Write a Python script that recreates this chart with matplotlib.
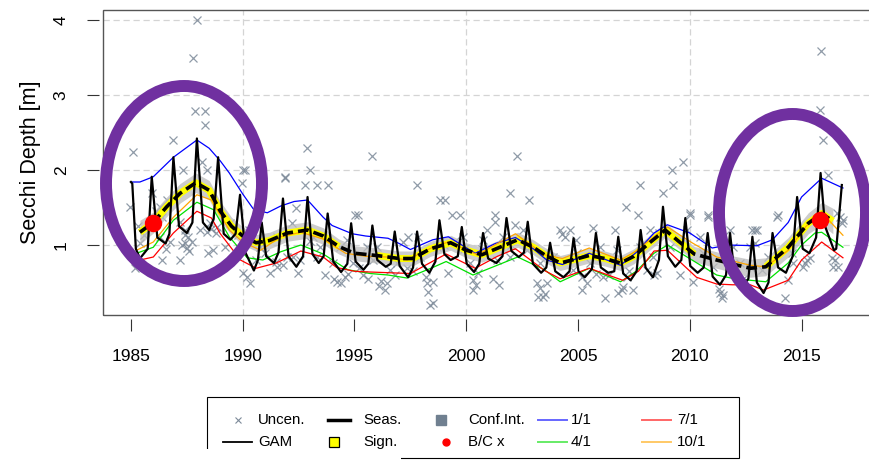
import matplotlib
matplotlib.use('Agg')
import matplotlib.pyplot as plt
from matplotlib.patches import Ellipse, Rectangle
from matplotlib.lines import Line2D
import numpy as np

plt.rcParams['font.family'] = ['Liberation Sans', 'DejaVu Sans']

# ---- data -------------------------------------------------------------
# seasonally averaged trend (Seas.) and half width of its confidence band
trend_year = [1985.4, 1986.0, 1986.6, 1987.2, 1987.9, 1988.5, 1989.0, 1989.5, 1990.0, 1990.6,
              1991.2, 1992.0, 1992.9, 1993.6, 1994.3, 1995.0, 1996.0, 1997.0, 1997.6, 1998.4,
              1999.3, 2000.0, 2000.7, 2001.5, 2002.3, 2003.0, 2003.5, 2004.2, 2005.0, 2005.5,
              2006.2, 2006.9, 2007.5, 2008.2, 2008.9, 2009.5, 2010.2, 2011.2, 2012.0, 2012.7,
              2013.4, 2014.4, 2015.3, 2015.9, 2016.4]
trend_depth = [1.17, 1.30, 1.51, 1.69, 1.83, 1.73, 1.45, 1.25, 1.12, 1.03,
               1.06, 1.16, 1.20, 1.12, 0.98, 0.89, 0.86, 0.82, 0.82, 0.95,
               1.03, 0.93, 0.87, 0.97, 1.07, 0.97, 0.87, 0.76, 0.82, 0.86,
               0.82, 0.76, 0.85, 1.03, 1.20, 1.05, 0.88, 0.80, 0.74, 0.69,
               0.71, 0.97, 1.29, 1.42, 1.32]
ci_half = [0.16, 0.14, 0.13, 0.13, 0.13, 0.13, 0.13, 0.12, 0.12, 0.11,
           0.11, 0.11, 0.11, 0.11, 0.10, 0.10, 0.10, 0.10, 0.10, 0.10,
           0.10, 0.10, 0.10, 0.10, 0.10, 0.10, 0.10, 0.10, 0.10, 0.10,
           0.10, 0.10, 0.10, 0.10, 0.10, 0.10, 0.10, 0.11, 0.11, 0.12,
           0.12, 0.13, 0.14, 0.15, 0.17]
# periods where the trend is significant
sign_periods = [(1985.4, 1994.3), (1996.0, 2010.2), (2013.4, 2016.4)]

# GAM fit (vertices)
gam_year = [1985.00, 1985.06, 1985.22, 1985.40, 1985.75, 1985.93,
            1986.18, 1986.55, 1986.72, 1986.90,
            1987.15, 1987.50, 1987.75, 1987.95,
            1988.22, 1988.50, 1988.70, 1988.90,
            1989.15, 1989.45, 1989.68, 1989.88,
            1990.12, 1990.50, 1990.68, 1990.85,
            1991.05, 1991.40, 1991.60, 1991.80,
            1992.05, 1992.40, 1992.70, 1992.90,
            1993.12, 1993.40, 1993.62, 1993.80,
            1994.05, 1994.40, 1994.68, 1994.85,
            1995.05, 1995.40, 1995.62, 1995.80,
            1996.02, 1996.40, 1996.62, 1996.80,
            1997.02, 1997.40, 1997.62, 1997.80,
            1998.02, 1998.35, 1998.62, 1998.80,
            1999.02, 1999.30, 1999.62, 1999.80,
            2000.02, 2000.35, 2000.58, 2000.75,
            2000.98, 2001.35, 2001.62, 2001.80,
            2002.02, 2002.35, 2002.58, 2002.75,
            2002.98, 2003.35, 2003.58, 2003.75,
            2003.98, 2004.35, 2004.62, 2004.80,
            2005.02, 2005.30, 2005.62, 2005.80,
            2006.02, 2006.35, 2006.62, 2006.80,
            2007.02, 2007.35, 2007.62, 2007.80,
            2008.02, 2008.35, 2008.62, 2008.80,
            2009.02, 2009.35, 2009.62, 2009.80,
            2010.02, 2010.35, 2010.62, 2010.80,
            2011.02, 2011.35, 2011.62, 2011.80,
            2012.02, 2012.35, 2012.62, 2012.80,
            2013.00, 2013.30, 2013.52, 2013.70,
            2013.95, 2014.30, 2014.60, 2014.80,
            2015.05, 2015.35, 2015.65, 2015.85,
            2016.05, 2016.45, 2016.55, 2016.80]
gam_depth = [1.84, 1.82, 0.95, 0.82, 0.95, 1.91,
             1.10, 1.02, 1.15, 2.17,
             1.25, 1.16, 1.30, 2.42,
             1.30, 1.20, 1.35, 2.17,
             1.15, 1.07, 1.15, 1.67,
             0.90, 0.66, 0.80, 1.30,
             0.85, 0.76, 0.90, 1.62,
             0.85, 0.71, 0.85, 1.64,
             0.88, 0.76, 0.85, 1.42,
             0.78, 0.64, 0.75, 1.29,
             0.78, 0.67, 0.75, 1.26,
             0.80, 0.71, 0.75, 1.18,
             0.72, 0.57, 0.70, 1.18,
             0.75, 0.63, 0.78, 1.33,
             0.88, 0.80, 0.85, 1.24,
             0.75, 0.64, 0.75, 1.16,
             0.82, 0.76, 0.85, 1.36,
             0.92, 0.84, 0.90, 1.31,
             0.75, 0.63, 0.70, 1.03,
             0.65, 0.57, 0.65, 1.09,
             0.65, 0.57, 0.68, 1.16,
             0.70, 0.63, 0.65, 1.11,
             0.62, 0.53, 0.65, 1.20,
             0.70, 0.57, 0.80, 1.51,
             0.85, 0.71, 0.80, 1.36,
             0.72, 0.63, 0.70, 1.16,
             0.58, 0.47, 0.60, 1.16,
             0.55, 0.44, 0.55, 1.11,
             0.50, 0.36, 0.50, 1.16,
             0.70, 0.63, 0.85, 1.64,
             0.95, 0.89, 1.10, 1.96,
             1.25, 0.93, 0.95, 1.80]

# GAM predictions on fixed days of the year
jan_year = [1985.05, 1985.4, 1986.0, 1986.9, 1987.95, 1988.5, 1989.0, 1989.4, 1990.0, 1990.5,
            1991.1, 1991.7, 1992.3, 1992.9, 1993.6, 1994.0, 1994.9, 1995.5, 1996.5, 1997.0,
            1997.5, 1998.5, 1999.2, 2000.4, 2001.3, 2002.2, 2003.0, 2003.6, 2004.3, 2005.5,
            2006.9, 2007.6, 2008.4, 2009.0, 2010.0, 2011.0, 2011.7, 2013.0, 2013.7, 2014.4,
            2015.0, 2015.9, 2016.85]
jan_depth = [1.84, 1.84, 1.91, 2.17, 2.40, 2.29, 2.12, 1.96, 1.68, 1.47,
             1.43, 1.52, 1.58, 1.60, 1.37, 1.26, 1.15, 1.12, 1.09, 1.02,
             0.94, 1.07, 1.11, 0.89, 1.02, 1.10, 0.95, 0.80, 0.74, 0.89,
             0.73, 0.90, 1.16, 1.27, 1.16, 0.96, 1.00, 0.99, 1.07, 1.30,
             1.64, 1.89, 1.76]

apr_year = [1985.25, 1986.0, 1986.9, 1987.95, 1988.7, 1989.4, 1990.2, 1990.9, 1991.7, 1992.6,
            1993.6, 1994.7, 1995.7, 1996.5, 1997.35, 1998.5, 1999.1, 2000.3, 2001.3, 2002.3,
            2003.5, 2004.2, 2005.5, 2006.9, 2007.6, 2008.4, 2009.0, 2010.1, 2011.2, 2012.0,
            2012.7, 2013.4, 2014.4, 2015.0, 2015.6, 2015.9, 2016.85]
apr_depth = [0.89, 0.97, 1.33, 1.57, 1.47, 1.11, 0.83, 0.80, 0.91, 1.00,
             0.88, 0.67, 0.62, 0.60, 0.56, 0.70, 0.78, 0.60, 0.72, 0.84,
             0.67, 0.51, 0.69, 0.51, 0.65, 0.89, 1.00, 0.80, 0.60, 0.55,
             0.53, 0.51, 0.76, 1.00, 1.16, 1.17, 0.97]

jul_year = [1985.4, 1986.0, 1986.9, 1987.95, 1988.6, 1989.0, 1989.9, 1990.6, 1991.5, 1992.6,
            1993.6, 1994.2, 1995.0, 1995.7, 1997.5, 1998.6, 1999.1, 2000.4, 2001.4, 2002.2,
            2003.5, 2004.2, 2005.5, 2007.0, 2007.7, 2008.4, 2009.0, 2010.3, 2011.2, 2011.9,
            2012.7, 2013.3, 2014.4, 2015.0, 2015.9, 2016.85]
jul_depth = [0.80, 0.84, 1.16, 1.45, 1.36, 1.15, 0.80, 0.69, 0.76, 0.92,
             0.84, 0.70, 0.65, 0.64, 0.62, 0.80, 0.88, 0.69, 0.85, 0.95,
             0.66, 0.55, 0.69, 0.53, 0.65, 0.92, 0.93, 0.57, 0.48, 0.47,
             0.47, 0.40, 0.53, 0.80, 1.04, 0.83]

oct_year = [1985.25, 1986.0, 1986.9, 1987.95, 1988.6, 1989.4, 1990.0, 1990.8, 1991.7, 1992.6,
            1993.6, 1994.6, 1995.5, 1996.5, 1997.35, 1998.5, 1999.2, 2000.5, 2001.4, 2002.2,
            2003.5, 2004.3, 2005.5, 2006.9, 2007.6, 2008.4, 2009.0, 2010.1, 2011.2, 2012.7,
            2013.4, 2014.4, 2015.2, 2015.9, 2016.85]
oct_depth = [0.93, 1.04, 1.37, 1.67, 1.60, 1.20, 1.04, 0.93, 1.11, 1.17,
             1.08, 0.89, 0.85, 0.84, 0.80, 0.97, 1.04, 0.87, 1.02, 1.15,
             0.87, 0.82, 0.96, 0.80, 0.92, 1.11, 1.24, 1.03, 0.84, 0.73,
             0.71, 0.93, 1.25, 1.43, 1.13]

# back-transformed values marked with B/C x
bc_year = [1986.0, 2015.82]
bc_depth = [1.29, 1.33]

# uncensored observations
obs_year = [1987.95, 1987.77, 1987.86, 1988.31, 1988.31, 1986.88, 1985.09, 1987.33, 1988.40, 1988.20,
            1984.96, 1986.30, 1985.94, 1986.60, 1986.40, 1987.19, 1987.42, 1987.55, 1987.42, 1987.73,
            1987.50, 1988.09, 1988.40, 1988.53, 1988.44, 1986.39, 1987.19, 1985.18, 1985.40, 1986.30,
            1986.74, 1990.10, 1989.97, 1991.90, 1987.30, 1987.60, 1987.40, 1988.60, 1988.80, 1990.30,
            1989.80, 1990.20, 1985.60, 1991.50, 1991.80, 1986.10, 1986.55, 1985.30,
            1992.87, 1993.01, 1991.89, 1992.79, 1993.32, 1990.01, 1992.20, 1988.85, 1988.67, 1990.32,
            1990.01, 1991.22, 1992.47, 1992.25, 1993.32, 1991.53, 1992.56, 1990.77, 1991.53, 1990.19,
            1989.43, 1989.20, 1993.46, 1993.14, 1991.98, 1992.40, 1991.00, 1990.60, 1993.00,
            1995.78, 1993.81, 1997.80, 1995.02, 1995.16, 1997.39, 1997.84, 1993.68, 1994.22, 1994.58,
            1995.38, 1996.45, 1996.36, 1998.24, 1998.29, 1998.38, 1996.90, 1996.00, 1994.35, 1995.56,
            1994.04, 1994.93, 1995.83, 1996.59, 1997.35, 1997.93, 1994.66, 1997.17, 1994.10, 1994.40,
            1994.70, 1996.20, 1996.10, 1998.20, 1995.20, 1995.60, 1996.80, 1997.60,
            2002.27, 1998.83, 1999.05, 2001.96, 2002.81, 1999.36, 1999.72, 2001.29, 2001.29, 2002.18,
            1999.18, 1998.51, 2000.30, 2000.30, 2000.53, 2003.17, 2003.21, 1998.51, 1999.85, 2000.75,
            2000.93, 2001.64, 2002.54, 2002.72, 2001.96, 2000.17, 2003.30, 1998.70, 2001.38, 2000.45,
            2001.20, 2001.45, 2003.30, 2003.50, 1999.00, 1999.50, 1999.90, 2002.00, 2000.70,
            2007.77, 2007.15, 2007.68, 2004.19, 2004.64, 2004.42, 2005.67, 2006.66, 2003.43, 2005.18,
            2005.18, 2006.21, 2006.97, 2007.46, 2003.61, 2004.78, 2006.12, 2007.19, 2008.09, 2004.96,
            2005.98, 2006.74, 2003.88, 2007.77, 2005.54, 2004.30, 2004.90, 2005.40, 2005.80, 2006.80,
            2007.00, 2006.40, 2007.30,
            2009.70, 2009.20, 2008.80, 2009.25, 2010.01, 2010.82, 2011.80, 2013.01, 2008.53, 2009.56,
            2010.15, 2011.35, 2011.44, 2012.25, 2011.04, 2008.36, 2009.12, 2010.46, 2010.60, 2011.67,
            2012.70, 2012.70, 2009.88, 2011.94, 2010.80, 2008.40, 2008.20, 2008.60, 2011.30, 2011.50,
            2012.80, 2012.40, 2010.00,
            2015.87, 2015.83, 2015.96, 2016.19, 2013.95, 2012.92, 2015.25, 2016.50, 2016.63, 2014.26,
            2014.40, 2013.50, 2016.72, 2016.81, 2015.16, 2015.38, 2016.37, 2013.23, 2014.58, 2012.92,
            2013.90, 2014.60, 2015.05, 2016.40, 2016.60, 2016.85]
obs_depth = [4.00, 3.49, 2.79, 2.79, 2.60, 2.40, 2.24, 2.00, 2.00, 2.10,
             1.51, 1.51, 1.69, 1.60, 1.37, 1.31, 1.20, 1.11, 1.03, 1.04,
             0.96, 1.20, 1.17, 1.29, 0.89, 0.80, 0.80, 0.69, 1.03, 1.11,
             1.04, 2.00, 1.83, 1.91, 1.00, 0.92, 1.13, 1.22, 1.16, 1.20,
             1.13, 0.57, 1.13, 0.78, 0.73, 1.45, 0.95, 1.25,
             2.29, 2.00, 1.89, 1.80, 1.80, 2.00, 1.29, 1.24, 0.93, 0.50,
             0.63, 0.63, 0.63, 0.84, 0.84, 0.71, 0.80, 0.97, 1.11, 1.07,
             1.29, 0.97, 0.97, 1.11, 0.84, 1.50, 0.90, 0.80, 1.05,
             2.19, 1.80, 1.80, 1.40, 1.40, 1.11, 1.11, 0.60, 0.51, 0.57,
             0.60, 0.49, 0.40, 0.49, 0.37, 0.20, 0.76, 0.97, 0.97, 0.97,
             0.76, 0.76, 0.80, 0.67, 0.69, 0.84, 1.07, 1.04, 0.55, 0.50,
             0.62, 0.52, 0.45, 0.57, 0.70, 0.55, 0.60, 0.66,
             2.19, 1.60, 1.60, 1.69, 1.60, 1.40, 1.40, 1.40, 1.31, 1.27,
             0.63, 0.23, 0.53, 0.40, 0.63, 0.49, 0.31, 0.51, 1.11, 1.07,
             1.20, 1.11, 1.20, 0.93, 0.84, 0.76, 0.76, 0.97, 0.80, 0.47,
             0.55, 0.47, 0.43, 0.35, 1.00, 1.05, 0.95, 1.00, 0.95,
             1.80, 1.51, 1.40, 1.20, 1.20, 1.11, 1.23, 1.20, 0.31, 0.57,
             0.40, 0.29, 0.40, 0.40, 0.49, 0.67, 0.57, 0.57, 0.67, 0.89,
             0.97, 0.93, 0.84, 0.97, 0.76, 1.15, 1.07, 0.50, 0.62, 0.36,
             0.44, 0.60, 0.66,
             2.11, 2.00, 1.69, 1.80, 1.40, 1.40, 1.20, 1.20, 0.63, 0.60,
             0.51, 0.36, 0.29, 0.76, 0.71, 0.84, 0.97, 1.11, 0.89, 0.93,
             0.97, 0.71, 1.20, 0.97, 1.37, 0.60, 1.20, 1.16, 0.42, 0.33,
             1.20, 0.55, 1.43,
             3.59, 2.80, 2.40, 1.93, 1.40, 1.20, 0.80, 0.80, 0.71, 0.29,
             0.53, 0.84, 1.37, 1.29, 0.76, 0.83, 0.83, 0.67, 0.89, 1.03,
             1.37, 0.76, 0.71, 0.71, 1.43, 1.33]

x_ticks = [1985, 1990, 1995, 2000, 2005, 2010, 2015]
y_ticks = [1, 2, 3, 4]

# ---- figure -----------------------------------------------------------
W, H = 869, 461
fig = plt.figure(figsize=(W / 100, H / 100), dpi=100)


def fx(px):
    return px / W


def fy(py):
    return 1 - py / H


ax = fig.add_axes([fx(103), fy(315), (872 - 103) / W, (315 - 10) / H])
ax.set_xlim(1983.75, 2018.15)
ax.set_ylim(0.067, 4.133)

# grid
for gx in [1990, 2000, 2010]:
    ax.axvline(gx, color='#d4d4d4', lw=0.9, ls=(0, (5, 3)), zorder=0)
for gy in y_ticks:
    ax.axhline(gy, color='#d4d4d4', lw=0.9, ls=(0, (5, 3)), zorder=0)

ax.plot(obs_year, obs_depth, ls='none', marker='x', color='#7d8a99', ms=5.5, mew=0.9,
        alpha=0.85, zorder=2)

ty = np.array(trend_year)
td = np.array(trend_depth)
ch = np.array(ci_half)
ax.fill_between(ty, td - ch, td + ch, color='#bdbdbd', alpha=0.75, lw=0, zorder=3)

for a, b in sign_periods:
    m = (ty >= a) & (ty <= b)
    ax.plot(ty[m], td[m], color='#ffff00', lw=5.0, solid_capstyle='butt', zorder=4)

ax.plot(jan_year, jan_depth, color='#0000ff', lw=0.9, zorder=5)
ax.plot(apr_year, apr_depth, color='#00e000', lw=0.9, zorder=5)
ax.plot(jul_year, jul_depth, color='#ff0000', lw=0.9, zorder=5)
ax.plot(oct_year, oct_depth, color='#ffa500', lw=0.9, zorder=5)

ax.plot(gam_year, gam_depth, color='black', lw=1.6, solid_joinstyle='round', zorder=6)
ax.plot(ty, td, color='black', lw=2.6, dashes=(3, 1.4), zorder=7)
ax.plot(bc_year, bc_depth, ls='none', marker='o', color='red', ms=11.5, zorder=8)

# axes, ticks and frame
for side in ['left', 'bottom', 'top', 'right']:
    ax.spines[side].set_position(('outward', 3))
    ax.spines[side].set_visible(False)
ax.add_patch(Rectangle((0, 0), 1, 1, transform=ax.transAxes, fill=False, ec='#555555',
                       lw=1.0, clip_on=False, zorder=10))
ax.set_xticks(x_ticks)
ax.set_yticks(y_ticks)
ax.set_yticklabels([str(v) for v in y_ticks], rotation=90, va='center')
ax.tick_params(axis='both', direction='out', length=8.6, width=0.8, color='#333333',
               labelsize=12.5)
ax.tick_params(axis='x', pad=13)
ax.tick_params(axis='y', pad=13)
ax.set_ylabel('Secchi Depth [m]', fontsize=15.5, labelpad=9)

# ellipses marking the periods of interest
for cx, cy, ew, eh in [(184, 183.5, 156, 195), (792.5, 212.5, 147, 197)]:
    fig.add_artist(Ellipse((fx(cx), fy(cy)), ew / W, eh / H, transform=fig.transFigure,
                           fill=False, ec='#7030a0', lw=8.6, zorder=20))

# legend
fig.add_artist(Rectangle((fx(207), fy(458)), (739 - 207) / W, (458 - 397) / H,
                         transform=fig.transFigure, fill=False, ec='black', lw=0.8, zorder=1))


def leg_line(x0, x1, y, **kw):
    fig.add_artist(Line2D([fx(x0), fx(x1)], [fy(y), fy(y)], transform=fig.transFigure, **kw))


def leg_mark(x, y, **kw):
    fig.add_artist(Line2D([fx(x)], [fy(y)], ls='none', transform=fig.transFigure, **kw))


def leg_text(x, y, s):
    fig.text(fx(x), fy(y), s, ha='left', va='center', fontsize=10.8, zorder=3)


r1, r2 = 420, 442
leg_mark(238, r1, marker='x', color='#7d8a99', ms=5, mew=0.8)
leg_text(258, r1, 'Uncen.')
leg_line(223, 252, r2, color='black', lw=1.3)
leg_text(258, r2, 'GAM')
leg_line(328, 350, r1, color='black', lw=2.5)
leg_text(363, r1, 'Seas.')
leg_mark(334, r2, marker='s', mfc='#ffff00', mec='black', ms=7.5, mew=0.9)
leg_text(363, r2, 'Sign.')
leg_mark(441, r1, marker='s', color='#708090', ms=7)
leg_text(468, r1, 'Conf.Int.')
leg_mark(446, r2, marker='o', color='red', ms=5)
leg_text(468, r2, 'B/C x')
leg_line(538, 567, r1, color='#0000ff', lw=1.4, alpha=0.6)
leg_text(571, r1, '1/1')
leg_line(538, 567, r2, color='#00dd00', lw=1.4, alpha=0.6)
leg_text(571, r2, '4/1')
leg_line(642, 671, r1, color='#ff0000', lw=1.4, alpha=0.6)
leg_text(677, r1, '7/1')
leg_line(642, 671, r2, color='#ffa500', lw=1.4, alpha=0.6)
leg_text(677, r2, '10/1')

# blank strip over the lower left of the legend
fig.add_artist(Rectangle((fx(150), 0), (401 - 150) / W, (H - 449) / H, transform=fig.transFigure,
                         fc='white', ec='none', zorder=30))

fig.savefig('out.png', dpi=100)
